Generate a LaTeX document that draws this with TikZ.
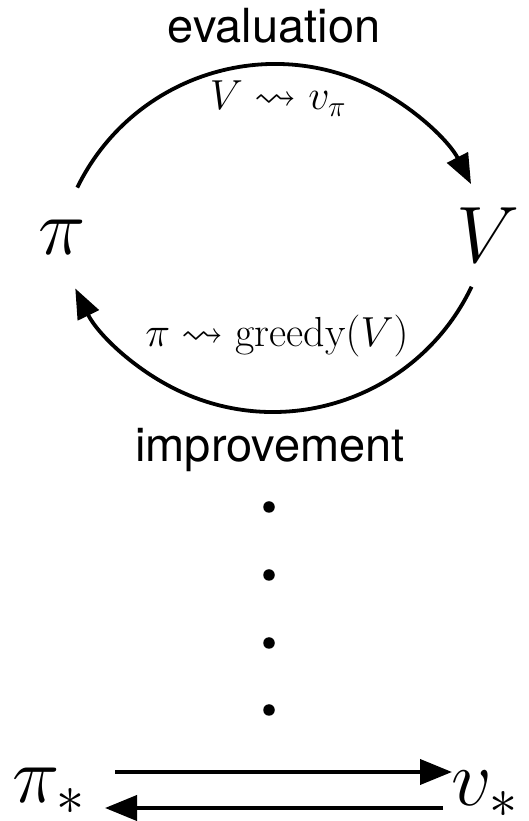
\RequirePackage{fix-cm}
\documentclass[tikz,border=0pt]{standalone}
\usepackage{amssymb}
\usepackage{fontspec}
\setsansfont{TeX Gyre Heros}
\usetikzlibrary{arrows.meta}
\begin{document}
\begin{tikzpicture}[x=1pt,y=1pt,
  lbl/.style={font=\sffamily\fontsize{47}{50}\selectfont, inner sep=0pt, anchor=base},
  mlbl/.style={font=\fontsize{42}{46}\selectfont, inner sep=0pt, anchor=base},
  big/.style={font=\fontsize{80}{84}\selectfont, inner sep=0pt, anchor=base},
  cyc/.style={line width=3.8pt, -{Triangle[length=30pt,width=23pt]}},
  fix/.style={line width=4pt, -{Triangle[length=32pt,width=25pt]}},
  dot/.style={circle, fill=black, inner sep=0pt, minimum size=11.5pt}]
\useasboundingbox (0,0) rectangle (529,821);
% labels
\node[lbl] (eval) at (274,778) {evaluation};
\node[lbl] (impr) at (270,359) {improvement};
\node[mlbl] (vlab) at (278,711) {$V \leadsto v_\pi$};
\node[mlbl] (glab) at (277,474) {$\pi \leadsto \mathrm{greedy}(V)$};
% main nodes
\node[big] (pi) at (62,566) {$\pi$};
\node[big] (V) at (488,558) {$V$};
% cycle arcs
\coordinate (ctop) at (275,537);
\coordinate (cbot) at (273,629);
\draw[cyc] ([shift={(154:220)}]ctop) arc[start angle=154, end angle=27, radius=220];
\draw[cyc] ([shift={(-25.5:220)}]cbot) arc[start angle=-25.5, end angle=-154, radius=220];
% dots
\node[dot] (d1) at (269,314) {};
\node[dot] (d2) at (269,246) {};
\node[dot] (d3) at (269,178) {};
\node[dot] (d4) at (269,111) {};
% fixed point
\node[big, anchor=base west] (pistar) at (12,18) {$\pi_*$};
\node[big, anchor=base west] (vstar) at (451,15) {$v_*$};
\coordinate (a1) at (115,49);
\coordinate (a2) at (452,49);
\coordinate (b1) at (443,13);
\coordinate (b2) at (105,13);
\draw[fix] (a1) -- (a2);
\draw[fix] (b1) -- (b2);
\end{tikzpicture}
\end{document}
